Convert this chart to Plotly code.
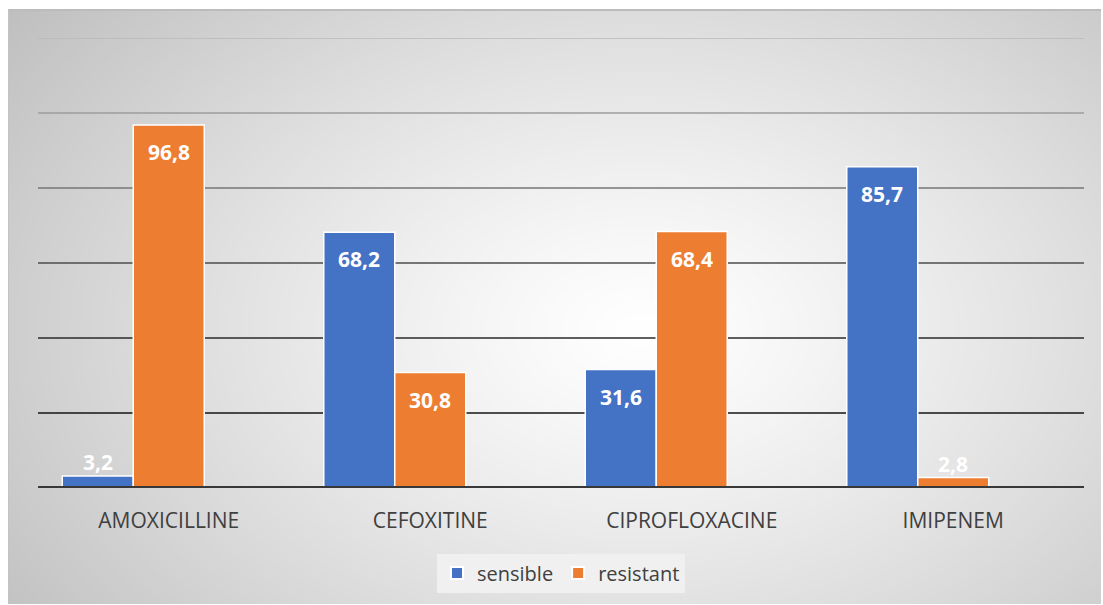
import base64, struct, zlib
import numpy as np
import plotly.graph_objects as go

categories = ["AMOXICILLINE", "CEFOXITINE", "CIPROFLOXACINE", "IMIPENEM"]
sensible = [3.2, 68.2, 31.6, 85.7]
resistant = [96.8, 30.8, 68.4, 2.8]
series_names = ["sensible", "resistant"]
series_colors = ["#4472C4", "#ED7D31"]
grid_values = [20, 40, 60, 80, 100, 120]
grid_colors = ["#141414", "#2a2a2a", "#4c4c4c", "#767676", "#9c9c9c", "#b8b8b8"]

W, H = 1103, 605
L, R, T, B = 38, 19, 38, 117
PW, PH = W - L - R, H - T - B

# --- radial gradient background image ---
iw, ih = 1093, 595
yy, xx = np.mgrid[0:ih, 0:iw].astype(float)
cx, cy, rx, ry = 632, 321, 700, 470
d = np.sqrt(((xx - cx) / rx) ** 2 + ((yy - cy) / ry) ** 2)
v = 255 - 55 * d ** 1.2
v = np.clip(v, 185, 255).astype(np.uint8)
v[0:2, :] = 188
v[:, 0:1] = 195

def to_png(arr):
    h, w = arr.shape
    raw = b"".join(b"\x00" + arr[i].tobytes() for i in range(h))
    def chunk(t, data):
        c = struct.pack(">I", len(data)) + t + data
        return c + struct.pack(">I", zlib.crc32(t + data) & 0xffffffff)
    return (b"\x89PNG\r\n\x1a\n" + chunk(b"IHDR", struct.pack(">IIBBBBB", w, h, 8, 0, 0, 0, 0))
            + chunk(b"IDAT", zlib.compress(raw, 9)) + chunk(b"IEND", b""))

img_src = "data:image/png;base64," + base64.b64encode(to_png(v)).decode()

BW = 0.2715  # bar width in category units (3 slots per group, third one empty)
offsets = [-1.5 * BW, -0.5 * BW]

fig = go.Figure()
for name, vals, col, off in zip(series_names, [sensible, resistant], series_colors, offsets):
    fig.add_trace(go.Bar(
        x=categories, y=vals, name=name, width=BW, offset=off,
        marker=dict(color=col, line=dict(color="white", width=1.5)),
        hoverinfo="skip",
    ))

def fmt(val):
    return f"{val:.1f}".replace(".", ",")

px_per_cat = PW / len(categories)
annotations = []
for vals, off in [(sensible, offsets[0]), (resistant, offsets[1])]:
    for c, val in zip(categories, vals):
        inside = val > 10
        annotations.append(dict(
            x=c, y=val, xref="x", yref="y", text="<b>" + fmt(val) + "</b>",
            showarrow=False, xshift=(off + BW / 2) * px_per_cat, yshift=-27 if inside else 14,
            font=dict(family="Open Sans", size=21, color="white"),
        ))

shapes = []
for gv, gc in zip(grid_values, grid_colors):
    shapes.append(dict(type="line", xref="paper", yref="y", x0=0, x1=1, y0=gv, y1=gv,
                       line=dict(color=gc, width=1.7), layer="below"))
shapes.append(dict(type="line", xref="paper", yref="y", x0=0, x1=1, y0=0, y1=0,
                   line=dict(color="#383838", width=4), layer="above"))

fig.update_layout(
    width=W, height=H,
    margin=dict(l=L, r=R, t=T, b=B),
    paper_bgcolor="white", plot_bgcolor="rgba(0,0,0,0)",
    barmode="overlay",
    showlegend=True,
    legend=dict(orientation="h", xref="container", yref="container",
                x=561 / W, y=(H - 573) / H, xanchor="center", yanchor="middle",
                bgcolor="#f0f0f0", font=dict(family="Open Sans", size=20, color="#404040"),
                itemsizing="constant", traceorder="normal"),
    xaxis=dict(showgrid=False, showline=False, ticks="outside", ticklen=14,
               tickcolor="rgba(0,0,0,0)", zeroline=False,
               tickfont=dict(family="Open Sans", size=21, color="#404040")),
    yaxis=dict(range=[0, 120], showgrid=False, showticklabels=False, zeroline=False,
               showline=False, ticks=""),
    shapes=shapes,
    annotations=annotations,
    images=[dict(source=img_src, xref="paper", yref="paper",
                 x=(8 - L) / PW, y=(H - B - 9) / PH,
                 sizex=iw / PW, sizey=ih / PH, sizing="stretch",
                 xanchor="left", yanchor="top", layer="below")],
    font=dict(family="Open Sans"),
)

fig.write_html("out.html")
